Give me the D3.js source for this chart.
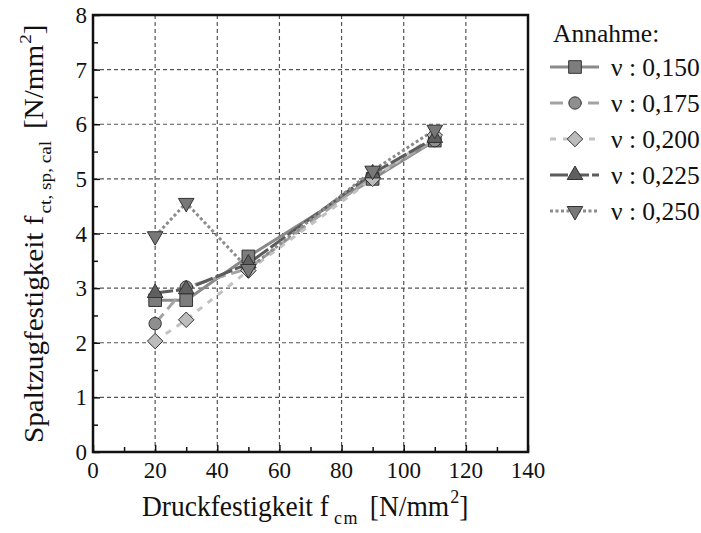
<!DOCTYPE html>
<html>
<head>
<meta charset="utf-8">
<script src="https://cdn.jsdelivr.net/npm/d3@7"></script>
</head>
<body style="margin:0">
<svg id="chart" width="701" height="533" font-family="Liberation Serif, Times New Roman, serif"></svg>
<script>
// Druckfestigkeit values (x) shared by all series
const fcm = [20, 30, 50, 90, 110];

// Calculated splitting tensile strength for each assumed Poisson ratio
const nu150 = [2.78, 2.78, 3.58, 5.00, 5.70];
const nu175 = [2.35, 3.02, 3.36, 5.05, 5.70];
const nu200 = [2.03, 2.42, 3.32, 5.00, 5.80];
const nu225 = [2.91, 2.98, 3.45, 5.10, 5.75];
const nu250 = [3.95, 4.56, 3.35, 5.15, 5.90];

const seriesLabels = ["\u03BD : 0,150", "\u03BD : 0,175", "\u03BD : 0,200", "\u03BD : 0,225", "\u03BD : 0,250"];
const xTicks = [0, 20, 40, 60, 80, 100, 120, 140];
const yTicks = [0, 1, 2, 3, 4, 5, 6, 7, 8];

const diamond = { draw(ctx, size) { const r = Math.sqrt(size / 2); ctx.moveTo(0, -r); ctx.lineTo(r, 0); ctx.lineTo(0, r); ctx.lineTo(-r, 0); ctx.closePath(); } };

const styles = [
  { line: "#8a8a8a", width: 3, dash: null, symbol: d3.symbolSquare, size: 160, fill: "#7d7d7d" },
  { line: "#a3a3a3", width: 3, dash: "13,6", symbol: d3.symbolCircle, size: 120, fill: "#8f8f8f" },
  { line: "#c2c2c2", width: 3, dash: "6,7", symbol: diamond, size: 120, fill: "#bcbcbc" },
  { line: "#5c5c5c", width: 3, dash: "18,3", symbol: d3.symbolTriangle, size: 105, fill: "#5f5f5f" },
  { line: "#8c8c8c", width: 3, dash: "3,2.5", symbol: d3.symbolTriangle, size: 105, fill: "#787878", flip: true }
];

const allSeries = [nu150, nu175, nu200, nu225, nu250];

const svg = d3.select("#chart");
const m = { left: 93, right: 528, top: 15, bottom: 452 };

const x = d3.scaleLinear().domain([0, 140]).range([m.left, m.right]);
const y = d3.scaleLinear().domain([0, 8]).range([m.bottom, m.top]);

// grid
const grid = svg.append("g");
grid.selectAll("line.v").data(xTicks.slice(1, -1)).join("line")
  .attr("x1", d => x(d)).attr("x2", d => x(d))
  .attr("y1", m.top).attr("y2", m.bottom)
  .attr("stroke", "#555").attr("stroke-width", 1.2).attr("stroke-dasharray", "4,3");
grid.selectAll("line.h").data(yTicks.slice(1, -1)).join("line")
  .attr("x1", m.left).attr("x2", m.right)
  .attr("y1", d => y(d)).attr("y2", d => y(d))
  .attr("stroke", "#555").attr("stroke-width", 1.2).attr("stroke-dasharray", "4,3");

// axes with inward ticks
const xAxis = svg.append("g").attr("transform", `translate(0,${m.bottom})`)
  .call(d3.axisBottom(x).tickValues(d3.range(0, 141, 10)).tickSize(-6).tickFormat(""));
xAxis.selectAll(".tick line").attr("y2", (d) => d % 20 === 0 ? -7 : -5).attr("stroke", "#111").attr("stroke-width", 1.5);
xAxis.select(".domain").remove();

const yAxis = svg.append("g").attr("transform", `translate(${m.left},0)`)
  .call(d3.axisLeft(y).tickValues(d3.range(0, 8.01, 0.5)).tickSize(-6).tickFormat(""));
yAxis.selectAll(".tick line").attr("x2", (d) => d % 1 === 0 ? 7 : 5).attr("stroke", "#111").attr("stroke-width", 1.5);
yAxis.select(".domain").remove();

// tick labels
svg.append("g").selectAll("text").data(xTicks).join("text")
  .attr("x", d => x(d)).attr("y", 478).attr("text-anchor", "middle")
  .attr("font-size", 23).attr("fill", "#111").text(d => d);
svg.append("g").selectAll("text").data(yTicks).join("text")
  .attr("x", 87).attr("y", d => y(d) + 8).attr("text-anchor", "end")
  .attr("font-size", 23).attr("fill", "#111").text(d => d);

// frame
svg.append("rect").attr("x", m.left).attr("y", m.top)
  .attr("width", m.right - m.left).attr("height", m.bottom - m.top)
  .attr("fill", "none").attr("stroke", "#111").attr("stroke-width", 2.5);

// series lines
const line = d3.line().x((d, i) => x(fcm[i])).y(d => y(d));
allSeries.forEach((vals, k) => {
  const s = styles[k];
  svg.append("path").datum(vals).attr("d", line)
    .attr("fill", "none").attr("stroke", s.line).attr("stroke-width", s.width)
    .attr("stroke-dasharray", s.dash);
});

// markers
function marker(g, s, cx, cy) {
  g.append("path")
    .attr("d", d3.symbol().type(s.symbol).size(s.size)())
    .attr("transform", `translate(${cx},${cy})` + (s.flip ? " rotate(180)" : ""))
    .attr("fill", s.fill).attr("stroke", "#333").attr("stroke-width", 1);
}
allSeries.forEach((vals, k) => {
  const g = svg.append("g");
  vals.forEach((v, i) => marker(g, styles[k], x(fcm[i]), y(v)));
});

// legend
const lg = svg.append("g");
lg.append("text").attr("x", 553).attr("y", 42).attr("font-size", 25.5).attr("fill", "#111").text("Annahme:");
seriesLabels.forEach((lab, k) => {
  const cy = 67 + k * 36;
  const s = styles[k];
  lg.append("line").attr("x1", 550).attr("x2", 599).attr("y1", cy).attr("y2", cy)
    .attr("stroke", s.line).attr("stroke-width", s.width)
    .attr("stroke-dasharray", s.dash);
  marker(lg, s, 575, cy);
  lg.append("text").attr("x", 611).attr("y", cy + 8.5).attr("font-size", 25.5).attr("fill", "#111").text(lab);
});

// axis titles
const xt = svg.append("text").attr("transform", "translate(142,516) scale(1,1.1)")
  .attr("font-size", 27.5).attr("fill", "#111");
xt.append("tspan").text("Druckfestigkeit f");
xt.append("tspan").attr("font-size", 18).attr("dx", 5).attr("dy", 7).attr("letter-spacing", 1.5).text("cm");
xt.append("tspan").attr("dx", 4).attr("dy", -7).text(" [N/mm");
xt.append("tspan").attr("font-size", 18).attr("dx", 1).attr("dy", -12).text("2");
xt.append("tspan").attr("dy", 12).text("]");

const yt = svg.append("text").attr("transform", "translate(43,443) rotate(-90) scale(1.1,1)")
  .attr("font-size", 26.5).attr("fill", "#111");
yt.append("tspan").text("Spaltzugfestigkeit f");
yt.append("tspan").attr("font-size", 17.5).attr("dx", 2).attr("dy", 8).text("ct, sp, cal");
yt.append("tspan").attr("dx", 4).attr("dy", -8).text(" [N/mm");
yt.append("tspan").attr("font-size", 17.5).attr("dx", 1).attr("dy", -12).text("2");
yt.append("tspan").attr("dy", 12).text("]");
</script>
</body>
</html>
